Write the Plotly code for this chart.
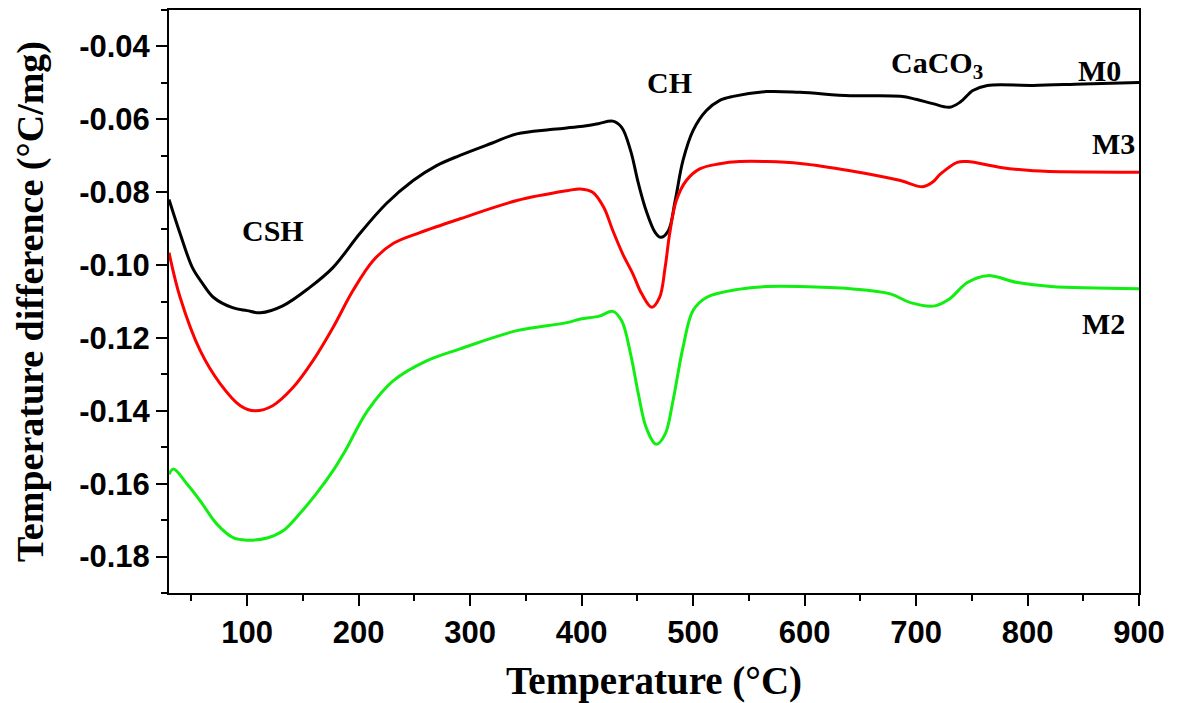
import plotly.graph_objects as go

# M0 (black)
m0_x = [30, 40, 51, 60, 70, 87, 100, 112, 132, 156, 177, 201, 225, 249, 270, 291, 320, 342, 372,
        399, 415, 428, 436, 444, 451, 458, 466, 471, 478, 484, 491, 500, 512, 524, 536, 566, 596,
        641, 686, 700, 715, 730, 740, 751, 764, 805, 850, 900]
m0_y = [-0.0820, -0.0914, -0.1007, -0.1050, -0.1089, -0.1117, -0.1125, -0.1131, -0.1112, -0.1062,
        -0.1007, -0.0914, -0.0831, -0.0768, -0.0727, -0.0699, -0.0665, -0.0640, -0.0628, -0.0620,
        -0.0612, -0.0605, -0.0622, -0.0686, -0.0776, -0.0851, -0.0910, -0.0924, -0.0905, -0.0823,
        -0.0713, -0.0631, -0.0576, -0.0548, -0.0537, -0.0524, -0.0526, -0.0535, -0.0537, -0.0545,
        -0.0557, -0.0567, -0.0552, -0.0521, -0.0507, -0.0507, -0.0503, -0.0499]

# M3 (red)
m3_x = [30, 40, 58, 76, 94, 107, 123, 141, 159, 177, 195, 213, 231, 255, 291, 342, 387, 399, 410,
        420, 428, 437, 446, 454, 463, 470, 475, 479, 485, 494, 506, 524, 542, 566, 596, 641, 686,
        706, 715, 722, 737, 746, 776, 805, 900]
m3_y = [-0.0966, -0.1089, -0.1235, -0.1326, -0.1386, -0.1400, -0.1386, -0.1337, -0.1263, -0.1172,
        -0.1070, -0.0988, -0.0941, -0.0911, -0.0873, -0.0823, -0.0796, -0.0791, -0.0800, -0.0842,
        -0.0905, -0.0970, -0.1024, -0.1079, -0.1116, -0.1089, -0.1006, -0.0915, -0.0823, -0.0768,
        -0.0736, -0.0722, -0.0716, -0.0716, -0.0721, -0.0741, -0.0768, -0.0785, -0.0772, -0.0750,
        -0.0718, -0.0716, -0.0732, -0.0741, -0.0745]

# M2 (green)
m2_x = [30, 34, 46, 58, 73, 88, 100, 118, 132, 147, 162, 177, 188, 208, 231, 261, 291, 342, 387,
        399, 416, 428, 436, 444, 451, 458, 467, 475, 482, 491, 500, 512, 542, 566, 596, 641, 677,
        695, 717, 730, 746, 764, 791, 821, 900]
m2_y = [-0.1574, -0.1560, -0.1600, -0.1647, -0.1711, -0.1749, -0.1755, -0.1749, -0.1730, -0.1683,
        -0.1628, -0.1565, -0.1510, -0.1400, -0.1318, -0.1263, -0.1230, -0.1180, -0.1158, -0.1148,
        -0.1140, -0.1127, -0.1153, -0.1244, -0.1354, -0.1446, -0.1492, -0.1464, -0.1373, -0.1226,
        -0.1125, -0.1089, -0.1066, -0.1059, -0.1059, -0.1065, -0.1079, -0.1103, -0.1112, -0.1093,
        -0.1048, -0.1029, -0.1048, -0.1059, -0.1065]

y_tickvals = [-0.04, -0.06, -0.08, -0.10, -0.12, -0.14, -0.16, -0.18]
y_ticktext = ["-0.04", "-0.06", "-0.08", "-0.10", "-0.12", "-0.14", "-0.16", "-0.18"]
x_tickvals = [100, 200, 300, 400, 500, 600, 700, 800, 900]
x_ticktext = ["100", "200", "300", "400", "500", "600", "700", "800", "900"]

labels = [
    ("CSH", 123, -0.0905),
    ("CH", 479, -0.0499),
    ("CaCO<sub>3</sub>", 719, -0.0450),
    ("M0", 865, -0.0466),
    ("M3", 877, -0.0667),
    ("M2", 868, -0.1161),
]

fig = go.Figure()
for xs, ys, col, name in [(m0_x, m0_y, "black", "M0"),
                          (m3_x, m3_y, "#ff0000", "M3"),
                          (m2_x, m2_y, "#11ee11", "M2")]:
    fig.add_trace(go.Scatter(x=xs, y=ys, mode="lines", name=name,
                             line=dict(color=col, width=3, shape="spline", smoothing=1.0)))

for txt, lx, ly in labels:
    fig.add_annotation(x=lx, y=ly, text=txt, showarrow=False,
                       font=dict(family="Liberation Serif, Times New Roman", size=30,
                                 color="black", weight="bold"))

tickfont = dict(family="Liberation Sans, Arial", size=31, color="black", weight="bold")
xtitlefont = dict(family="Liberation Serif, Times New Roman", size=39, color="black", weight="bold")
ytitlefont = dict(family="Liberation Serif, Times New Roman", size=38, color="black", weight="bold")

fig.update_layout(
    width=1178, height=703,
    margin=dict(l=169, r=39, t=10, b=110),
    plot_bgcolor="white", paper_bgcolor="white",
    showlegend=False,
    xaxis=dict(range=[30, 900], tickmode="array", tickvals=x_tickvals, ticktext=x_ticktext,
               ticks="outside", ticklen=11, tickwidth=2,
               tickcolor="black", showline=True, linecolor="black", linewidth=2,
               mirror=True, showgrid=False, zeroline=False, tickfont=tickfont, automargin=False,
               minor=dict(dtick=50, tick0=0, ticks="outside", ticklen=6, tickwidth=2, tickcolor="black"),
               title=dict(text="Temperature (°C)", font=xtitlefont, standoff=22)),
    yaxis=dict(range=[-0.19, -0.03], tickmode="array", tickvals=y_tickvals, ticktext=y_ticktext,
               ticks="outside", ticklen=11, tickwidth=2, tickcolor="black", showline=True,
               linecolor="black", linewidth=2, mirror=True, showgrid=False, zeroline=False,
               tickfont=tickfont, automargin=False,
               minor=dict(dtick=0.01, tick0=0, ticks="outside", ticklen=6, tickwidth=2, tickcolor="black"),
               title=dict(text="Temperature difference (°C/mg)", font=ytitlefont, standoff=24)),
)

fig.write_html("out.html")
